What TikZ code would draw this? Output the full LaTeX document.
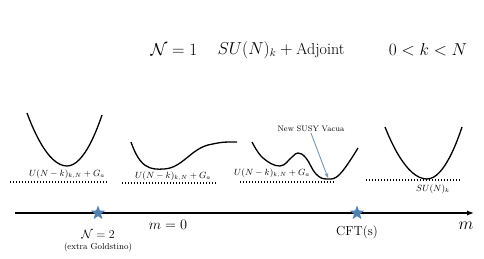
\documentclass[tikz,border=0pt]{standalone}
\usepackage{amsmath}
\usetikzlibrary{arrows.meta, positioning, shapes.geometric}
\definecolor{starblue}{RGB}{79,129,178}
\definecolor{arrowgray}{RGB}{122,152,172}

\begin{document}
\begin{tikzpicture}[x=1pt, y=-1pt,
  potential/.style={line width=1.3pt, black},
  vacline/.style={line width=1.3pt, dash pattern=on 1.2pt off 1.8pt},
  vaclabel/.style={font=\fontsize{9}{11}\selectfont, inner sep=0pt},
  titletext/.style={font=\fontsize{16}{19}\selectfont, inner sep=0pt},
  pointstar/.style={star, star points=5, star point ratio=2.4, fill=starblue, inner sep=0pt, minimum size=15pt}]
\useasboundingbox (0,0) rectangle (484,259);

% title
\node [titletext] (nfield) at (174,50) {$\mathcal{N}=1$};
\node [titletext] (theory) at (281,50) {$SU(N)_k+\text{Adjoint}$};
\node [titletext] (range)  at (428,50) {$0<k<N$};

% potentials
\draw [potential] (27,113) parabola bend (67,166) (102,115);
\draw [vacline] (10,182) -- (107,182);
\node [vaclabel] (lab1) at (67,174) {$U(N-k)_{k,N}+G_a$};

\draw [potential] (131,142) .. controls (140,168) and (150,170) .. (164,169)
  .. controls (182,168) and (190,150) .. (208,145) .. controls (222,142) .. (237,142);
\draw [vacline] (122,183) -- (217,183);
\node [vaclabel] (lab2) at (173,176) {$U(N-k)_{k,N}+G_a$};

\draw [potential] plot [smooth, tension=0.7] coordinates {(252,142) (263,158) (280,166) (292,157) (298,153) (306,158) (316,174) (327,179) (340,174) (358,148)};
\draw [vacline] (240,182) -- (335,182);
\node [vaclabel] (lab3) at (272,173) {$U(N-k)_{k,N}+G_a$};
\node [font=\fontsize{8}{10}\selectfont, inner sep=1pt] (vacua) at (311,129) {New SUSY Vacua};
\coordinate (newmin) at (328,178);
\draw [arrowgray, line width=0.9pt, -{Stealth[length=5pt]}] (vacua.south) -- (newmin);

\draw [potential] (385,127) parabola bend (427,179) (462,127);
\draw [vacline] (366,180) -- (460,180);
\node [vaclabel] (lab4) at (433,189) {$SU(N)_k$};

% mass axis
\coordinate (axstart) at (15,213);
\coordinate (axend) at (474,213);
\draw [line width=1.3pt, -{Latex[length=7pt]}] (axstart) -- (axend);
\node [pointstar] (star1) at (98,213) {};
\node [pointstar] (star2) at (357,213) {};
\node [font=\fontsize{13}{15}\selectfont] (n2) at (98,234) {$\mathcal{N}=2$};
\node [font=\fontsize{8.7}{10}\selectfont] (goldstino) at (98,247) {(extra Goldstino)};
\node [font=\fontsize{15}{17}\selectfont] (mzero) at (168,225) {$m=0$};
\node [font=\fontsize{13}{15}\selectfont] (cft) at (357,232) {CFT(s)};
\node [font=\fontsize{19}{21}\selectfont] (mlabel) at (466,226) {$m$};
\end{tikzpicture}
\end{document}
